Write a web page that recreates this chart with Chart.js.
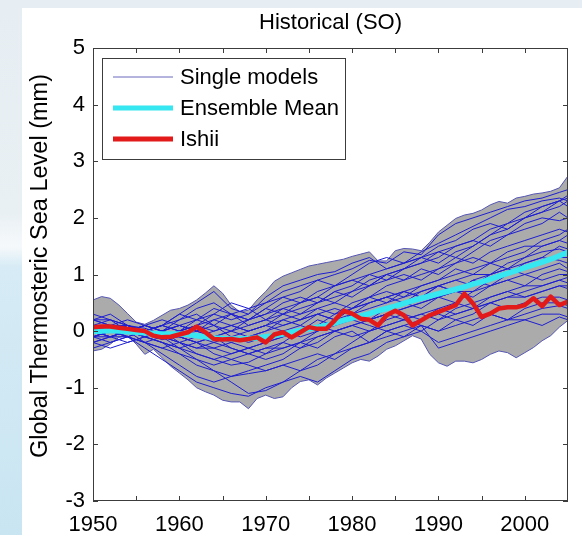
<!DOCTYPE html>
<html>
<head>
<meta charset="utf-8">
<script src="https://cdn.jsdelivr.net/npm/chart.js@4.4.0/dist/chart.umd.min.js"></script>
<style>
  html, body { margin: 0; padding: 0; width: 582px; height: 535px; overflow: hidden; }
  body {
    position: relative;
    background: linear-gradient(to bottom, #e7eef3 0%, #e9f0f4 40%, #f6f9fb 46%, #d6ebf5 50%, #c9e5f2 100%);
  }
  #paper { position: absolute; left: 22px; top: 8px; right: 0; bottom: 0; background: #ffffff; }
  #chart { position: absolute; left: 0; top: 0; }
</style>
</head>
<body>
<div id="paper"></div>
<canvas id="chart" width="582" height="535"></canvas>
<script>
// years 1950..2005, one value per year
const years = [1950,1951,1952,1953,1954,1955,1956,1957,1958,1959,
               1960,1961,1962,1963,1964,1965,1966,1967,1968,1969,
               1970,1971,1972,1973,1974,1975,1976,1977,1978,1979,
               1980,1981,1982,1983,1984,1985,1986,1987,1988,1989,
               1990,1991,1992,1993,1994,1995,1996,1997,1998,1999,
               2000,2001,2002,2003,2004,2005];

const envelopeUpper = [0.55,0.61,0.58,0.46,0.31,0.16,0.12,0.19,0.28,0.37,
                       0.40,0.46,0.55,0.67,0.80,0.67,0.46,0.34,0.37,0.55,
                       0.70,0.88,0.97,1.03,1.09,1.15,1.18,1.21,1.24,1.27,
                       1.32,1.36,1.40,1.24,1.24,1.42,1.46,1.45,1.42,1.57,
                       1.75,1.87,1.99,2.05,2.08,2.14,2.23,2.29,2.26,2.35,
                       2.38,2.42,2.44,2.47,2.53,2.74];

const envelopeLower = [-0.35,-0.32,-0.23,-0.11,-0.08,-0.23,-0.41,-0.32,-0.47,-0.62,
                       -0.74,-0.86,-1.00,-1.07,-1.13,-1.22,-1.25,-1.25,-1.37,-1.19,
                       -1.13,-1.19,-1.16,-1.00,-0.89,-0.86,-0.95,-0.83,-0.74,-0.65,
                       -0.56,-0.50,-0.53,-0.44,-0.32,-0.26,-0.17,-0.08,-0.14,-0.41,
                       -0.56,-0.62,-0.53,-0.53,-0.56,-0.50,-0.41,-0.35,-0.38,-0.47,
                       -0.38,-0.29,-0.17,-0.08,0.07,0.19];

const ensembleMean = [0.00,0.00,0.01,0.00,-0.01,-0.02,-0.03,-0.04,-0.05,-0.05,
                      -0.05,-0.06,-0.08,-0.10,-0.12,-0.13,-0.14,-0.14,-0.13,-0.12,
                      -0.10,-0.08,-0.05,-0.02,0.01,0.04,0.07,0.10,0.14,0.19,
                      0.23,0.27,0.31,0.36,0.40,0.44,0.49,0.54,0.58,0.62,
                      0.66,0.70,0.74,0.78,0.83,0.87,0.92,0.97,1.02,1.07,
                      1.12,1.17,1.22,1.27,1.33,1.39];

const ishii = [0.07,0.08,0.08,0.06,0.04,0.02,0.00,-0.08,-0.11,-0.10,
               -0.06,-0.02,0.08,-0.02,-0.14,-0.15,-0.14,-0.16,-0.14,-0.11,
               -0.20,-0.06,-0.02,-0.11,-0.02,0.07,0.04,0.04,0.19,0.36,
               0.31,0.22,0.20,0.10,0.28,0.36,0.28,0.10,0.19,0.28,
               0.34,0.40,0.46,0.66,0.49,0.25,0.31,0.40,0.42,0.42,
               0.46,0.58,0.44,0.61,0.46,0.52];

// single models, sampled every two years
const modelYears = [1950,1952,1954,1956,1958,1960,1962,1964,1966,1968,
                    1970,1972,1974,1976,1978,1980,1982,1984,1986,1988,
                    1990,1992,1994,1996,1998,2000,2002,2004,2005];

const singleModels = [
  [0.2,0.1,0.0,-0.1,0.0,0.1,0.2,0.3,0.2,0.3,0.5,0.7,0.8,0.9,1.0,1.1,1.25,1.2,1.4,1.35,1.7,1.9,2.0,2.1,2.2,2.3,2.35,2.45,2.5],
  [-0.1,0.0,0.1,0.0,0.1,0.3,0.5,0.7,0.4,0.3,0.6,0.8,0.9,1.0,1.05,1.2,1.3,1.1,1.2,1.4,1.55,1.7,1.85,2.0,2.15,2.2,2.3,2.35,2.3],
  [0.1,0.05,-0.1,-0.2,-0.3,-0.2,-0.1,0.0,0.1,0.2,0.3,0.4,0.5,0.6,0.8,0.9,1.0,1.1,1.2,1.3,1.4,1.5,1.6,1.8,1.9,2.0,2.1,2.3,2.2],
  [0.0,0.1,0.0,-0.1,-0.2,-0.3,-0.4,-0.5,-0.6,-0.55,-0.4,-0.2,0.0,0.1,0.3,0.4,0.6,0.8,0.9,1.1,1.0,1.2,1.4,1.6,1.7,1.9,2.0,1.95,2.0],
  [-0.2,-0.1,0.0,0.1,0.0,-0.1,0.0,0.2,0.3,0.1,0.2,0.4,0.3,0.5,0.7,0.6,0.8,0.9,1.0,0.9,1.1,1.3,1.2,1.4,1.5,1.6,1.7,1.8,1.75],
  [0.3,0.2,0.1,0.0,0.1,0.2,0.3,0.1,0.0,0.2,0.4,0.3,0.5,0.6,0.5,0.7,0.8,1.0,0.9,1.0,1.1,1.2,1.3,1.2,1.4,1.5,1.5,1.6,1.55],
  [0.0,-0.1,-0.1,0.0,-0.1,-0.2,-0.3,-0.3,-0.2,-0.1,0.0,0.1,0.2,0.3,0.2,0.4,0.5,0.6,0.7,0.8,0.9,1.0,1.1,1.2,1.1,1.3,1.4,1.45,1.4],
  [-0.1,0.0,0.1,0.05,-0.05,-0.1,-0.2,-0.4,-0.5,-0.4,-0.3,-0.3,-0.2,0.0,0.1,0.3,0.4,0.5,0.7,0.6,0.8,0.9,1.0,1.0,1.1,1.2,1.3,1.25,1.2],
  [0.1,0.0,-0.1,-0.2,-0.1,0.0,0.1,0.2,0.1,0.0,0.1,0.2,0.3,0.4,0.3,0.5,0.6,0.5,0.6,0.7,0.8,0.9,0.8,1.0,1.1,1.0,1.1,1.2,1.1],
  [-0.3,-0.2,-0.1,-0.2,-0.4,-0.6,-0.8,-0.9,-0.8,-0.7,-0.6,-0.5,-0.3,-0.2,0.0,0.1,0.2,0.3,0.4,0.5,0.6,0.7,0.7,0.8,0.9,1.0,0.9,1.0,1.0],
  [0.0,0.0,-0.1,-0.3,-0.5,-0.7,-0.9,-1.0,-1.1,-1.15,-1.0,-0.9,-0.7,-0.6,-0.4,-0.2,0.0,0.1,0.2,0.3,0.2,0.4,0.5,0.6,0.7,0.8,0.8,0.9,0.85],
  [0.1,0.1,0.0,-0.1,-0.2,-0.4,-0.6,-0.7,-0.8,-0.75,-0.7,-0.6,-0.7,-0.5,-0.4,-0.3,-0.2,0.0,0.1,0.0,0.2,0.3,0.4,0.5,0.6,0.6,0.7,0.8,0.75],
  [0.2,0.1,0.0,0.1,0.2,0.1,0.0,-0.1,-0.2,-0.3,-0.2,-0.1,0.0,0.1,0.0,0.1,0.2,0.3,0.2,0.3,0.4,0.3,0.4,0.5,0.4,0.5,0.6,0.6,0.55],
  [-0.2,-0.1,0.0,0.0,0.1,0.0,-0.1,-0.2,-0.3,-0.4,-0.3,-0.2,-0.3,-0.1,0.0,-0.1,0.0,0.1,0.2,0.1,0.0,0.1,0.2,0.3,0.2,0.3,0.4,0.45,0.4],
  [0.0,0.1,0.1,0.0,-0.1,-0.3,-0.5,-0.7,-0.9,-1.1,-1.05,-0.9,-0.8,-0.9,-0.7,-0.5,-0.4,-0.2,-0.1,0.0,-0.2,-0.1,0.0,0.1,0.2,0.2,0.3,0.3,0.25],
  [-0.1,-0.2,-0.1,0.0,-0.1,-0.2,-0.3,-0.2,-0.1,0.0,0.1,0.0,-0.1,0.0,0.1,0.2,0.1,0.0,-0.1,0.1,-0.3,-0.2,-0.1,0.0,0.1,0.2,0.1,0.25,0.2],
  [0.2,0.3,0.1,0.0,0.1,0.3,0.2,0.4,0.3,0.4,0.2,0.3,0.4,0.5,0.6,0.7,0.9,1.0,1.1,1.2,1.4,1.3,1.5,1.7,1.8,2.0,2.1,2.2,2.3],
  [-0.1,0.0,0.0,-0.1,0.0,0.1,0.0,-0.1,0.0,-0.1,0.0,0.2,0.1,0.3,0.2,0.4,0.5,0.6,0.5,0.7,0.8,0.7,0.9,1.0,1.2,1.3,1.5,1.6,1.7],
  [0.0,-0.1,0.0,0.1,0.0,-0.1,-0.2,-0.1,-0.3,-0.4,-0.5,-0.4,-0.2,-0.3,-0.1,0.0,-0.2,0.0,0.1,0.2,0.3,0.2,0.3,0.5,0.6,0.7,0.8,0.9,0.95],
  [0.1,0.0,0.1,0.0,-0.1,0.0,0.1,0.3,0.5,0.4,0.5,0.6,0.5,0.7,0.8,0.9,0.8,1.0,1.1,1.2,1.3,1.5,1.6,1.5,1.7,1.8,1.9,2.1,2.0],
  [0.0,0.1,0.2,0.1,0.0,0.2,0.4,0.5,0.3,0.2,0.4,0.6,0.7,0.9,0.8,1.0,1.2,1.3,1.2,1.3,1.5,1.6,1.8,1.9,1.8,2.0,2.2,2.3,2.4],
  [-0.2,-0.3,-0.2,-0.1,-0.2,-0.3,-0.2,-0.3,-0.4,-0.3,-0.2,-0.1,0.0,0.2,0.1,0.3,0.2,0.4,0.5,0.4,0.6,0.7,0.6,0.8,0.9,0.8,1.0,1.1,1.05],
  [0.1,0.2,0.0,0.0,0.1,0.0,0.2,0.1,0.3,0.2,0.3,0.5,0.6,0.5,0.7,0.8,1.0,0.9,1.1,1.3,1.2,1.4,1.5,1.7,1.9,2.1,2.2,2.3,2.35],
  [0.0,0.0,0.05,-0.05,-0.15,-0.1,-0.2,-0.1,0.0,0.1,0.2,0.1,0.2,0.3,0.4,0.3,0.5,0.6,0.7,0.6,0.8,0.7,0.9,0.8,1.0,1.1,1.2,1.3,1.3],
  [-0.1,0.0,0.0,-0.2,-0.3,-0.4,-0.5,-0.6,-0.5,-0.6,-0.7,-0.6,-0.5,-0.4,-0.5,-0.3,-0.2,-0.1,0.0,0.1,0.0,0.2,0.1,0.3,0.2,0.4,0.5,0.5,0.45],
  [0.2,0.2,0.1,0.0,-0.1,0.0,0.1,0.0,0.1,0.0,0.1,0.3,0.2,0.4,0.5,0.4,0.6,0.7,0.6,0.8,0.9,1.1,1.0,1.2,1.3,1.4,1.6,1.7,1.8],
  [0.0,-0.1,-0.2,-0.1,0.0,0.1,0.0,0.1,-0.1,-0.2,-0.1,0.0,0.1,0.0,0.2,0.3,0.2,0.3,0.4,0.5,0.6,0.5,0.7,0.9,1.0,1.2,1.3,1.5,1.45],
  [-0.1,-0.1,0.0,0.1,0.0,-0.2,-0.4,-0.5,-0.4,-0.3,-0.4,-0.3,-0.2,-0.1,0.0,0.1,0.0,0.2,0.3,0.2,0.4,0.5,0.4,0.6,0.7,0.6,0.7,0.8,0.8]
];

const xTicks = [1950, 1960, 1970, 1980, 1990, 2000];
const yTicks = [-3, -2, -1, 0, 1, 2, 3, 4, 5];

const FONT = '"Liberation Sans", Arial, Helvetica, sans-serif';
const MODEL_COLOR = '#1e1ed2';
const EDGE_COLOR = '#5656b4';
const FILL_COLOR = '#ababab';
const MEAN_COLOR = '#36e6f0';
const ISHII_COLOR = '#e21a1a';

function pts(xs, ys) {
  return xs.map((x, i) => ({ x: x, y: ys[i] }));
}

const datasets = [
  { label: 'upper', data: pts(years, envelopeUpper), borderColor: EDGE_COLOR, borderWidth: 1,
    backgroundColor: FILL_COLOR, fill: 1, pointRadius: 0, order: 10 },
  { label: 'lower', data: pts(years, envelopeLower), borderColor: EDGE_COLOR, borderWidth: 1,
    fill: false, pointRadius: 0, order: 9 }
];
singleModels.forEach((m, i) => {
  datasets.push({ label: 'model' + i, data: pts(modelYears, m), borderColor: MODEL_COLOR,
    borderWidth: 1, fill: false, pointRadius: 0, order: 5 });
});
datasets.push({ label: 'Ensemble Mean', data: pts(years, ensembleMean), borderColor: MEAN_COLOR,
  borderWidth: 5.5, fill: false, pointRadius: 0, order: 2, borderJoinStyle: 'round' });
datasets.push({ label: 'Ishii', data: pts(years, ishii), borderColor: ISHII_COLOR,
  borderWidth: 4.5, fill: false, pointRadius: 0, order: 1, borderJoinStyle: 'round' });

// matlab style frame, inward ticks, legend, title and y label
const matlabAxes = {
  id: 'matlabAxes',
  afterDraw(chart) {
    const ctx = chart.ctx;
    const a = chart.chartArea;
    const xs = chart.scales.x, ys = chart.scales.y;
    ctx.save();
    ctx.strokeStyle = '#3c3c3c';
    ctx.lineWidth = 1;
    ctx.strokeRect(a.left + 0.5, a.top + 0.5, a.right - a.left - 1, a.bottom - a.top - 1);
    ctx.beginPath();
    for (let yr = 1955; yr < 2005; yr += 5) {
      const px = Math.round(xs.getPixelForValue(yr)) + 0.5;
      ctx.moveTo(px, a.bottom); ctx.lineTo(px, a.bottom - 5);
      ctx.moveTo(px, a.top); ctx.lineTo(px, a.top + 5);
    }
    yTicks.forEach(v => {
      const py = Math.round(ys.getPixelForValue(v)) + 0.5;
      ctx.moveTo(a.left, py); ctx.lineTo(a.left + 5, py);
      ctx.moveTo(a.right, py); ctx.lineTo(a.right - 5, py);
    });
    ctx.stroke();

    // legend
    const lx = 102, ly = 58, lw = 243, lh = 101;
    ctx.fillStyle = '#ffffff';
    ctx.fillRect(lx, ly, lw, lh);
    ctx.strokeStyle = '#3c3c3c';
    ctx.strokeRect(lx + 0.5, ly + 0.5, lw, lh);
    const rows = [
      { text: 'Single models', color: '#6868bc', width: 1, y: 77 },
      { text: 'Ensemble Mean', color: MEAN_COLOR, width: 5, y: 108 },
      { text: 'Ishii', color: ISHII_COLOR, width: 5, y: 139 }
    ];
    ctx.font = '22px ' + FONT;
    ctx.textBaseline = 'middle';
    ctx.textAlign = 'left';
    rows.forEach(r => {
      ctx.beginPath();
      ctx.strokeStyle = r.color;
      ctx.lineWidth = r.width;
      ctx.moveTo(113, r.y); ctx.lineTo(173, r.y);
      ctx.stroke();
      ctx.fillStyle = '#000000';
      ctx.fillText(r.text, 180, r.y + 1);
    });

    // title
    ctx.textAlign = 'center';
    ctx.fillText('Historical (SO)', (a.left + a.right) / 2, 23);

    // y axis label
    ctx.font = '23.5px ' + FONT;
    ctx.translate(41, 266);
    ctx.rotate(-Math.PI / 2);
    ctx.fillText('Global Thermosteric Sea Level (mm)', 0, 0);
    ctx.restore();
  }
};

new Chart(document.getElementById('chart'), {
  type: 'line',
  data: { datasets: datasets },
  options: {
    responsive: false,
    animation: false,
    events: [],
    layout: { padding: { left: 0, right: 14, top: 48, bottom: 0 } },
    plugins: {
      legend: { display: false },
      title: { display: false },
      tooltip: { enabled: false }
    },
    scales: {
      x: {
        type: 'linear',
        min: 1950,
        max: 2005,
        grid: { display: false, drawTicks: false },
        border: { display: false },
        afterBuildTicks(scale) { scale.ticks = xTicks.map(v => ({ value: v })); },
        afterFit(scale) { scale.height = 34; },
        ticks: {
          autoSkip: false,
          maxRotation: 0,
          padding: 11,
          color: '#000000',
          font: { family: FONT, size: 22 },
          callback: v => String(v)
        }
      },
      y: {
        min: -3,
        max: 5,
        grid: { display: false, drawTicks: false },
        border: { display: false },
        afterBuildTicks(scale) { scale.ticks = yTicks.map(v => ({ value: v })); },
        afterFit(scale) { scale.width = 93; },
        ticks: {
          padding: 8,
          color: '#000000',
          font: { family: FONT, size: 22 },
          callback: v => String(v)
        }
      }
    }
  },
  plugins: [matlabAxes]
});
</script>
</body>
</html>
